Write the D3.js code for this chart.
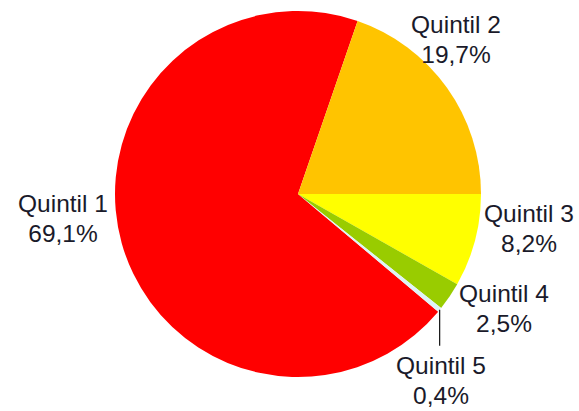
<!DOCTYPE html>
<html>
<head>
<meta charset="utf-8">
<script src="https://cdn.jsdelivr.net/npm/d3@7"></script>
<style>
  body { margin: 0; background: #fff; }
  text { font-family: "Liberation Sans", Arial, sans-serif; fill: #1a1a2a; }
</style>
</head>
<body>
<div id="chart"></div>
<script>
var width = 579;
var height = 411;

var cx = 298;
var cy = 194;
var radius = 183;

var categories = ["Quintil 1", "Quintil 2", "Quintil 3", "Quintil 4", "Quintil 5"];
var values = [69.1, 19.7, 8.2, 2.5, 0.4];
var valueLabels = ["69,1%", "19,7%", "8,2%", "2,5%", "0,4%"];
var colors = ["#ff0000", "#ffc400", "#ffff00", "#99cc00", "#dff3f6"];

// where each label sits (centre x, first baseline y)
var labelPos = [[63, 212], [456, 33], [529, 222], [504, 302], [441, 374]];

var data = categories.map(function(c, i) {
	return { name: c, value: values[i], label: valueLabels[i] };
});

var total = d3.sum(values);
// Quintil 2 ends at 3 o'clock, so Quintil 1 starts that far back
var start = Math.PI / 2 - (values[0] + values[1]) / total * 2 * Math.PI;

var pie = d3.pie()
	.sort(null)
	.value(function(d) { return d.value; })
	.startAngle(start)
	.endAngle(start + 2 * Math.PI);

var arc = d3.arc()
	.innerRadius(0)
	.outerRadius(radius);

var svg = d3.select("#chart")
	.append("svg")
	.attr("width", width)
	.attr("height", height);

var g = svg.append("g")
	.attr("transform", "translate(" + cx + "," + cy + ")");

var arcs = pie(data);

g.selectAll(".slice")
	.data(arcs)
	.enter()
	.append("path")
	.attr("class", "slice")
	.attr("fill", function(d, i) { return colors[i]; })
	.attr("d", arc);

// leader line for the tiny slice
var q5 = arcs[4];
var mid = (q5.startAngle + q5.endAngle) / 2;
var lx = Math.sin(mid) * radius;
var ly = -Math.cos(mid) * radius;
g.append("line")
	.attr("x1", lx)
	.attr("y1", ly)
	.attr("x2", lx)
	.attr("y2", ly + 36)
	.attr("stroke", "#111")
	.attr("stroke-width", 1.2);

var labels = svg.selectAll(".lbl")
	.data(data)
	.enter()
	.append("text")
	.attr("class", "lbl")
	.attr("text-anchor", "middle")
	.attr("font-size", "24.5px")
	.attr("x", function(d, i) { return labelPos[i][0]; })
	.attr("y", function(d, i) { return labelPos[i][1]; });

labels.append("tspan")
	.text(function(d) { return d.name; });

labels.append("tspan")
	.attr("x", function(d, i) { return labelPos[i][0]; })
	.attr("dy", 30)
	.text(function(d) { return d.label; });
</script>
</body>
</html>
